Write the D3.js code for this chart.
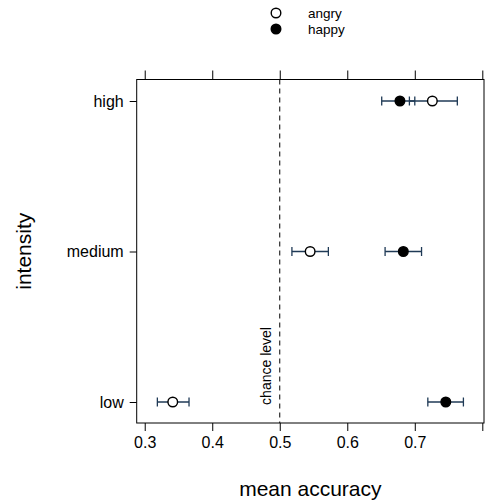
<!DOCTYPE html>
<html><head><meta charset="utf-8">
<script src="https://cdn.jsdelivr.net/npm/d3@7"></script>
<style>body{margin:0;background:#fff}text{font-family:"Liberation Sans",Arial,sans-serif;fill:#000}</style>
</head><body><svg id="c" width="485" height="501"></svg>
<script>
const categories = ["low", "medium", "high"];
const series = ["angry", "happy"];
const angryMean = [0.3415, 0.545, 0.726];
const angryLower = [0.3187, 0.518, 0.692];
const angryUpper = [0.3656, 0.572, 0.763];
const happyMean = [0.7459, 0.683, 0.678];
const happyLower = [0.7193, 0.656, 0.651];
const happyUpper = [0.772, 0.710, 0.700];
const xTicks = [0.3, 0.4, 0.5, 0.6, 0.7, 0.8];
const xTickLabels = ["0.3", "0.4", "0.5", "0.6", "0.7", ""];
const chance = 0.5;

(function () {
const svg = d3.select("#c");
const L = 136.7, R = 484, T = 79.5, B = 423;
const x = d3.scaleLinear().domain([0.2881, 0.8025]).range([L, R]);
const y = d3.scalePoint().domain(categories).range([402, 101]);
const lineCol = "#1f3a56";

svg.append("rect").attr("x", L).attr("y", T).attr("width", R - L).attr("height", B - T)
  .attr("fill", "none").attr("stroke", "#000").attr("stroke-width", 1);

const axB = svg.append("g").attr("transform", `translate(0,${B})`)
  .call(d3.axisBottom(x).tickValues(xTicks).tickFormat((d, i) => xTickLabels[i]).tickSizeOuter(0).tickSize(8).tickPadding(6));
const axT = svg.append("g").attr("transform", `translate(0,${T})`)
  .call(d3.axisTop(x).tickValues(xTicks).tickFormat("").tickSizeOuter(0).tickSize(9));
const axL = svg.append("g").attr("transform", `translate(${L},0)`)
  .call(d3.axisLeft(y).tickSizeOuter(0).tickSize(7).tickPadding(6));
[axB, axT, axL].forEach(g => {
  g.select(".domain").remove();
  g.selectAll("line").attr("stroke", "#000");
  g.selectAll("text").style("font-size", "16px").attr("fill", "#000");
});

svg.append("line").attr("x1", x(chance)).attr("x2", x(chance)).attr("y1", T).attr("y2", B)
  .attr("stroke", "#000").attr("stroke-dasharray", "5,4");
svg.append("text").attr("transform", `translate(${x(chance) - 9},366) rotate(-90)`)
  .attr("text-anchor", "middle").style("font-size", "14px").text("chance level");

const data = [];
categories.forEach((c, i) => {
  data.push({c, s: "angry", m: angryMean[i], lo: angryLower[i], hi: angryUpper[i]});
  data.push({c, s: "happy", m: happyMean[i], lo: happyLower[i], hi: happyUpper[i]});
});
const g = svg.append("g");
data.forEach(d => {
  const yy = y(d.c);
  g.append("line").attr("x1", x(d.lo)).attr("x2", x(d.hi)).attr("y1", yy).attr("y2", yy)
    .attr("stroke", lineCol).attr("stroke-width", 1.3);
  [d.lo, d.hi].forEach(v => g.append("line").attr("x1", x(v)).attr("x2", x(v))
    .attr("y1", yy - 4.5).attr("y2", yy + 4.5).attr("stroke", lineCol).attr("stroke-width", 1.3));
});
data.forEach(d => {
  g.append("circle").attr("cx", x(d.m)).attr("cy", y(d.c)).attr("r", 4.8)
    .attr("fill", d.s === "angry" ? "#fff" : "#000").attr("stroke", "#000").attr("stroke-width", 1.4);
});

series.forEach((s, i) => {
  const ly = 13 + i * 16;
  svg.append("circle").attr("cx", 276).attr("cy", ly).attr("r", 4.8)
    .attr("fill", s === "angry" ? "#fff" : "#000").attr("stroke", "#000").attr("stroke-width", 1.4);
  svg.append("text").attr("x", 308).attr("y", ly + 4.5).style("font-size", "13.5px").text(s);
});

svg.append("text").attr("x", (L + R) / 2).attr("y", 496).attr("text-anchor", "middle")
  .style("font-size", "21px").text("mean accuracy");
svg.append("text").attr("transform", `translate(31,${(T + B) / 2}) rotate(-90)`)
  .attr("text-anchor", "middle").style("font-size", "21px").text("intensity");
})();
</script></body></html>
